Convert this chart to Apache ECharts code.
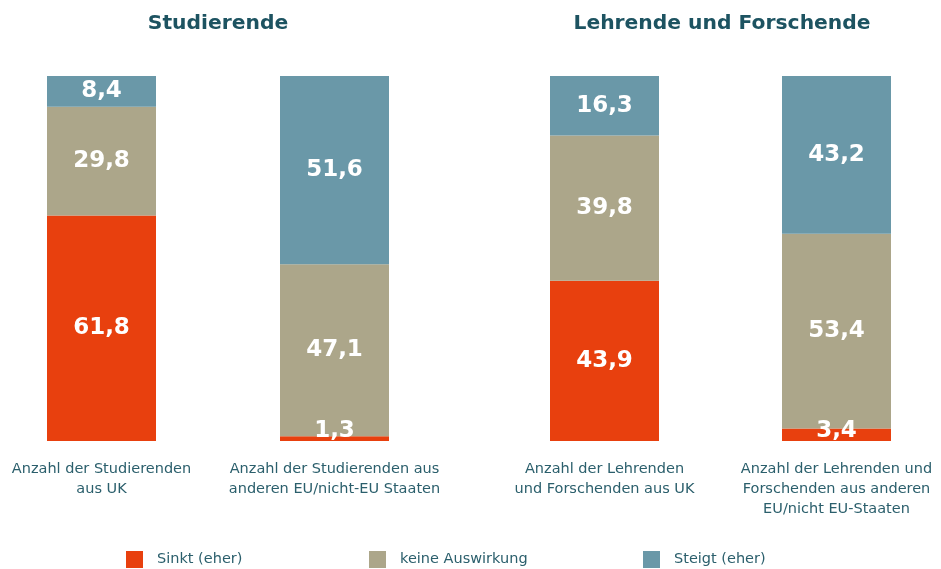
<!DOCTYPE html>
<html>
<head>
<meta charset="utf-8">
<script src="https://cdn.jsdelivr.net/npm/echarts@6/dist/echarts.min.js"></script>
<style>
html, body { margin: 0; padding: 0; background: #fff; }
#chart { width: 941px; height: 569px; }
</style>
</head>
<body>
<div id="chart"></div>
<script>
// Kategorien (Balken)
const categories = [
  'Anzahl der Studierenden\naus UK',
  'Anzahl der Studierenden aus\nanderen EU/nicht-EU Staaten',
  'Anzahl der Lehrenden\nund Forschenden aus UK',
  'Anzahl der Lehrenden und\nForschenden aus anderen\nEU/nicht EU-Staaten'
];
const seriesNames = ['Sinkt (eher)', 'keine Auswirkung', 'Steigt (eher)'];
const sinkt = [61.8, 1.3, 43.9, 3.4];
const keine = [29.8, 47.1, 39.8, 53.4];
const steigt = [8.4, 51.6, 16.3, 43.2];
const groupTitles = ['Studierende', 'Lehrende und Forschende'];

const colors = ['#e8400e', '#aca68a', '#6a98a8'];
const values = [sinkt, keine, steigt];
const barLefts = [47, 280, 550, 782];
const barW = 109;
const font = 'DejaVu Sans';

const chart = echarts.init(document.getElementById('chart'));

const grids = [], xAxes = [], yAxes = [], series = [];
categories.forEach((cat, i) => {
  grids.push({ left: barLefts[i], width: barW, top: 76, bottom: 128 });
  xAxes.push({
    type: 'category', gridIndex: i, data: [cat],
    axisLine: { show: false }, axisTick: { show: false },
    axisLabel: { color: '#2b5f6c', fontFamily: font, fontSize: 14.5, lineHeight: 20, margin: 18, interval: 0 }
  });
  yAxes.push({ type: 'value', gridIndex: i, min: 0, max: 100, show: false });
  seriesNames.forEach((name, s) => {
    const v = values[s][i];
    // kleine Segmente: Beschriftung unten im Balken
    const item = v < 5 ? { value: v, label: { position: 'insideBottom', distance: -2 } } : v;
    series.push({
      name: name, type: 'bar', stack: 'g' + i,
      xAxisIndex: i, yAxisIndex: i,
      barWidth: '100%',
      itemStyle: { color: colors[s] },
      label: {
        show: true, position: 'inside', color: '#fff',
        fontFamily: font, fontWeight: 'bold', fontSize: 23,
        formatter: p => String(p.value).replace('.', ',')
      },
      data: [item]
    });
  });
});

const legendLefts = [126, 369, 643];
const legends = seriesNames.map((n, i) => ({
  data: [n], left: legendLefts[i], top: 551, padding: 0,
  icon: 'rect', itemWidth: 17, itemHeight: 17, itemGap: 14,
  textStyle: { color: '#2b5f6c', fontFamily: font, fontSize: 14.5, padding: [0, 0, 0, 9] },
  selectedMode: false
}));

const titleStyle = { color: '#1d5361', fontFamily: font, fontWeight: 'bold', fontSize: 20.3 };

chart.setOption({
  animation: false,
  title: [
    { text: groupTitles[0], left: 213, top: 9, textAlign: 'center', textStyle: titleStyle },
    { text: groupTitles[1], left: 717, top: 9, textAlign: 'center', textStyle: titleStyle }
  ],
  legend: legends,
  grid: grids,
  xAxis: xAxes,
  yAxis: yAxes,
  series: series
});
</script>
</body>
</html>
